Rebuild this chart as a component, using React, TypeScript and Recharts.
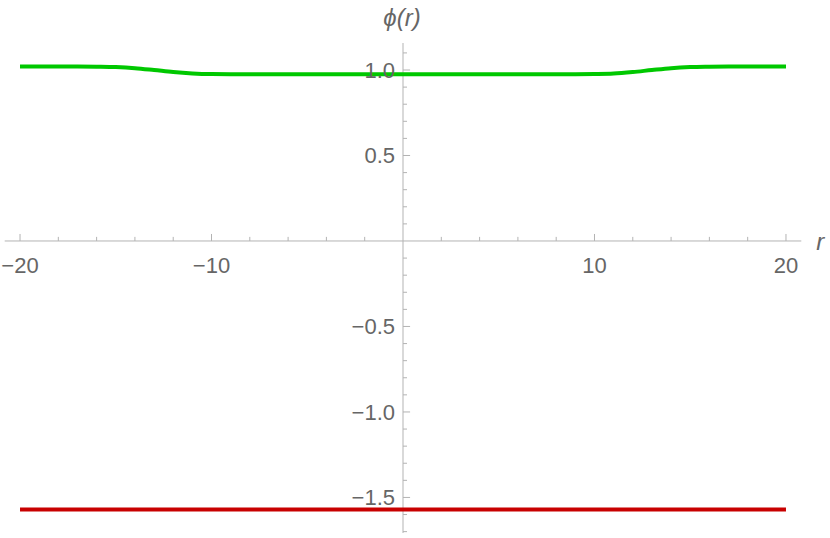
import React from "react";
import { ComposedChart, Line, XAxis, YAxis, ReferenceLine, ReferenceDot } from "recharts";

const rValues = [-20, -19, -18, -17, -16, -15, -14, -13, -12, -11, -10, -9, -8, -7, -6, -5, -4, -3, -2, -1, 0,
  1, 2, 3, 4, 5, 6, 7, 8, 9, 10, 11, 12, 13, 14, 15, 16, 17, 18, 19, 20];
const greenPhi = [1.02, 1.02, 1.02, 1.02, 1.019, 1.017, 1.011, 1.0, 0.988, 0.98, 0.976, 0.975, 0.975, 0.975, 0.975,
  0.975, 0.975, 0.975, 0.975, 0.975, 0.975, 0.975, 0.975, 0.975, 0.975, 0.975, 0.975, 0.975, 0.975, 0.975, 0.976,
  0.979, 0.988, 1.0, 1.011, 1.017, 1.019, 1.02, 1.02, 1.02, 1.02];
const redPhi = rValues.map(() => -1.571);

const xMajor = [-20, -10, 10, 20];
const xMajorLabels = ["\u221220", "\u221210", "10", "20"];
const xMinor = [-18, -16, -14, -12, -8, -6, -4, -2, 2, 4, 6, 8, 12, 14, 16, 18];
const yMajor = [-1.5, -1.0, -0.5, 0.5, 1.0];
const yMajorLabels = ["\u22121.5", "\u22121.0", "\u22120.5", "0.5", "1.0"];
const yMinor = [-1.7, -1.6, -1.4, -1.3, -1.2, -1.1, -0.9, -0.8, -0.7, -0.6, -0.4, -0.3, -0.2, -0.1,
  0.1, 0.2, 0.3, 0.4, 0.6, 0.7, 0.8, 0.9, 1.1];

const X_DOMAIN: [number, number] = [-20.8, 20.8];
const Y_DOMAIN: [number, number] = [-1.708, 1.158];

const rows = rValues.map((r, i) => ({ r, green: greenPhi[i], red: redPhi[i] }));

const axisColor = "#b3b3b3";
const labelColor = "#666666";
const font = "'Liberation Sans', Arial, sans-serif";

export default function App() {
  return (
    <div style={{ position: "absolute", left: 0, top: 0, background: "#fff" }}>
      <ComposedChart width={830} height={538} data={rows}
        margin={{ top: 43, right: 28.7, bottom: 5, left: 4.7 }}>
        <XAxis type="number" dataKey="r" domain={X_DOMAIN} allowDataOverflow hide />
        <YAxis type="number" domain={Y_DOMAIN} allowDataOverflow hide />

        <ReferenceLine y={0} stroke={axisColor} strokeWidth={1} />
        <ReferenceLine x={0} stroke={axisColor} strokeWidth={1} />

        {xMajor.map(v => (
          <ReferenceLine key={"xM" + v} segment={[{ x: v, y: 0 }, { x: v, y: 0.041 }]} stroke={axisColor} />
        ))}
        {xMinor.map(v => (
          <ReferenceLine key={"xm" + v} segment={[{ x: v, y: 0 }, { x: v, y: 0.024 }]} stroke={axisColor} />
        ))}
        {yMajor.map(v => (
          <ReferenceLine key={"yM" + v} segment={[{ x: 0, y: v }, { x: 0.37, y: v }]} stroke={axisColor} />
        ))}
        {yMinor.map(v => (
          <ReferenceLine key={"ym" + v} segment={[{ x: 0, y: v }, { x: 0.21, y: v }]} stroke={axisColor} />
        ))}

        <Line dataKey="green" type="monotone" stroke="#00c800" strokeWidth={4} dot={false} isAnimationActive={false} />
        <Line dataKey="red" type="monotone" stroke="#c80000" strokeWidth={4} dot={false} isAnimationActive={false} />

        {xMajor.map((v, i) => (
          <ReferenceDot key={"xl" + v} x={v} y={0} r={0} ifOverflow="visible"
            shape={(p: any) => (
              <text x={p.cx} y={p.cy + 32} textAnchor="middle" fill={labelColor} fontSize={22} fontFamily={font}>
                {xMajorLabels[i]}
              </text>
            )} />
        ))}
        {yMajor.map((v, i) => (
          <ReferenceDot key={"yl" + v} x={0} y={v} r={0} ifOverflow="visible"
            shape={(p: any) => (
              <text x={p.cx - 8} y={p.cy + 8} textAnchor="end" fill={labelColor} fontSize={22} fontFamily={font}>
                {yMajorLabels[i]}
              </text>
            )} />
        ))}
        <ReferenceDot x={0} y={Y_DOMAIN[1]} r={0} ifOverflow="visible"
          shape={(p: any) => (
            <text x={p.cx - 1} y={p.cy - 17} textAnchor="middle" fill={labelColor} fontSize={24} fontStyle="italic" fontFamily={font}>
              {"\u03d5(r)"}
            </text>
          )} />
        <ReferenceDot x={X_DOMAIN[1]} y={0} r={0} ifOverflow="visible"
          shape={(p: any) => (
            <text x={p.cx + 15} y={p.cy + 9} textAnchor="start" fill={labelColor} fontSize={24} fontStyle="italic" fontFamily={font}>
              r
            </text>
          )} />
      </ComposedChart>
    </div>
  );
}
